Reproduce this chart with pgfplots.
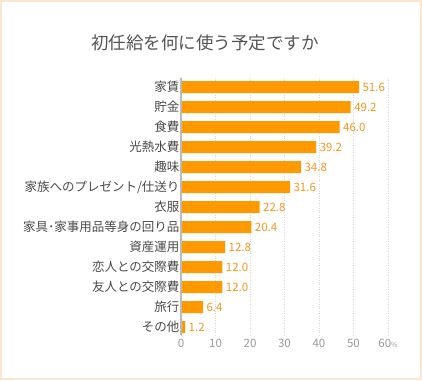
\documentclass[border=0pt]{standalone}
\usepackage{fontspec}
\setmainfont{Noto Sans CJK JP}
\usepackage{pgfplots}
\pgfplotsset{compat=1.18}
\definecolor{barorange}{HTML}{FF9900}
\definecolor{valorange}{HTML}{F7961E}
\definecolor{framepeach}{HTML}{FCE6CE}
\definecolor{labgray}{HTML}{4A4A4A}
\definecolor{titlegray}{HTML}{555555}
\definecolor{tickgray}{HTML}{999999}
\definecolor{axgray}{HTML}{BBBBBB}
\definecolor{gridgray}{HTML}{D5D5D5}
\begin{document}
\begin{tikzpicture}
\useasboundingbox (0pt,0pt) rectangle (422pt,380pt);
\fill[framepeach] (0pt,0pt) rectangle (422pt,380pt);
\fill[white] (2pt,2pt) rectangle (420pt,378pt);
\node[text=titlegray, font=\fontsize{17.5}{20}\selectfont] at (205pt,337pt) {初任給を何に使う予定ですか};
\begin{axis}[
  at={(181pt,45pt)}, anchor=south west,
  scale only axis, width=207pt, height=257pt,
  xbar, bar width=12pt,
  xmin=0, xmax=60,
  ymin=-0.45, ymax=12.4,
  y dir=reverse,
  axis line style={draw=none},
  xtick={0,10,20,30,40,50,60},
  xticklabels={0,10,20,30,40,50,{60\fontsize{7}{8}\selectfont\%}},
  /pgf/number format/assume math mode=true,
  xticklabel style={text=tickgray, font=\fontsize{11.5}{13}\selectfont, yshift=-1pt},
  ytick={0,...,12},
  yticklabels={家賃,貯金,食費,光熱水費,趣味,家族へのプレゼント/仕送り,衣服,家具･家事用品等身の回り品,資産運用,恋人との交際費,友人との交際費,旅行,その他},
  yticklabel style={text=labgray, font=\fontsize{12.5}{14}\selectfont, xshift=2pt},
  major tick length=0pt,
  xmajorgrids, grid style={gridgray, dotted, line width=0.6pt},
  nodes near coords,
  nodes near coords style={text=valorange, font=\fontsize{11.5}{13}\selectfont, /pgf/number format/.cd, fixed, fixed zerofill, precision=1, assume math mode=true},
  clip=false,
]
\addplot[fill=barorange, draw=none] coordinates {
(51.6,0) (49.2,1) (46.0,2) (39.2,3) (34.8,4) (31.6,5) (22.8,6) (20.4,7) (12.8,8) (12.0,9) (12.0,10) (6.4,11) (1.2,12)};
\draw[axgray, line width=2pt] (axis cs:0,-0.45) -- (axis cs:0,12.4);
\end{axis}
\end{tikzpicture}
\end{document}
